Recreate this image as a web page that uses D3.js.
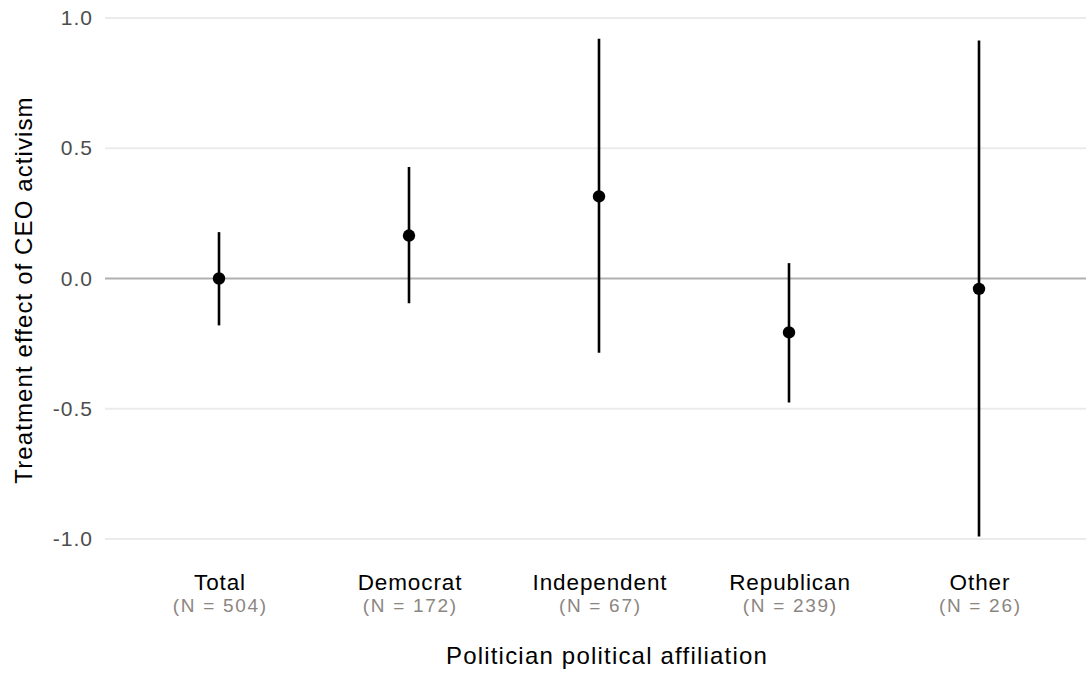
<!DOCTYPE html>
<html>
<head>
<meta charset="utf-8">
<script src="https://cdn.jsdelivr.net/npm/d3@7"></script>
<style>
  html, body { margin: 0; padding: 0; background: #ffffff; }
  svg { display: block; font-family: "Liberation Sans", Arial, sans-serif; }
</style>
</head>
<body>
<svg id="chart" width="1086" height="673"></svg>
<script>
// ---- data ----
const categories = ["Total", "Democrat", "Independent", "Republican", "Other"];
const sampleSizes = [504, 172, 67, 239, 26];
const estimates = [0.0, 0.165, 0.315, -0.207, -0.04];
const lowerCI = [-0.18, -0.095, -0.285, -0.476, -0.99];
const upperCI = [0.178, 0.428, 0.92, 0.059, 0.914];
const yTicks = [-1.0, -0.5, 0.0, 0.5, 1.0];

const xTitle = "Politician political affiliation";
const yTitle = "Treatment effect of CEO activism";

// ---- layout ----
const panel = { left: 105, right: 1086 };

const svg = d3.select("#chart");

const x = d3.scalePoint()
  .domain(categories)
  .range([219, 979]);

const y = d3.scaleLinear()
  .domain([-1, 1])
  .range([539, 18]);

// gridlines
svg.append("g").selectAll("line")
  .data(yTicks)
  .join("line")
  .attr("x1", panel.left)
  .attr("x2", panel.right)
  .attr("y1", d => y(d))
  .attr("y2", d => y(d))
  .attr("stroke", d => d === 0 ? "#b0b0b0" : "#ebebeb")
  .attr("stroke-width", 2);

// y axis tick labels
const yAxis = d3.axisLeft(y)
  .tickValues(yTicks)
  .tickFormat(d => d3.format(".1f")(d).replace("\u2212", "-"))
  .tickSize(0)
  .tickPadding(0);
const yg = svg.append("g")
  .attr("transform", `translate(93,0)`)
  .call(yAxis);
yg.select(".domain").remove();
yg.selectAll("text")
  .attr("fill", "#4d4d4d")
  .style("font-size", "21px")
  .style("letter-spacing", "1px")
  .style("font-family", "Liberation Sans, Arial, sans-serif");

// x axis labels
const xAxis = d3.axisBottom(x).tickSize(0).tickPadding(0).tickFormat("");
const xg = svg.append("g")
  .attr("transform", `translate(0,566)`)
  .call(xAxis);
xg.select(".domain").remove();
xg.selectAll(".tick").each(function(d, i) {
  const t = d3.select(this);
  t.append("text")
    .attr("y", 24)
    .attr("x", 0.5)
    .attr("text-anchor", "middle")
    .attr("fill", "#000000")
    .style("font-size", "22.5px")
    .style("letter-spacing", "0.9px")
    .text(d);
  t.append("text")
    .attr("y", 46)
    .attr("x", 0.8)
    .attr("text-anchor", "middle")
    .attr("fill", "#8c8681")
    .style("font-size", "19px")
    .style("letter-spacing", "1.7px")
    .text(`(N = ${sampleSizes[i]})`);
});

// error bars
const data = categories.map((c, i) => ({
  c, est: estimates[i], lo: lowerCI[i], hi: upperCI[i]
}));

svg.append("g").selectAll("line")
  .data(data)
  .join("line")
  .attr("x1", d => x(d.c))
  .attr("x2", d => x(d.c))
  .attr("y1", d => y(d.lo))
  .attr("y2", d => y(d.hi))
  .attr("stroke", "#000")
  .attr("stroke-width", 2.6);

svg.append("g").selectAll("circle")
  .data(data)
  .join("circle")
  .attr("cx", d => x(d.c))
  .attr("cy", d => y(d.est))
  .attr("r", 6.2)
  .attr("fill", "#000");

// axis titles
svg.append("text")
  .attr("x", 607)
  .attr("y", 664)
  .attr("text-anchor", "middle")
  .attr("fill", "#000")
  .style("font-size", "24px")
  .style("letter-spacing", "1.2px")
  .text(xTitle);

svg.append("text")
  .attr("transform", `translate(32,290) rotate(-90)`)
  .attr("text-anchor", "middle")
  .attr("fill", "#000")
  .style("font-size", "24px")
  .style("letter-spacing", "1.1px")
  .text(yTitle);
</script>
</body>
</html>
